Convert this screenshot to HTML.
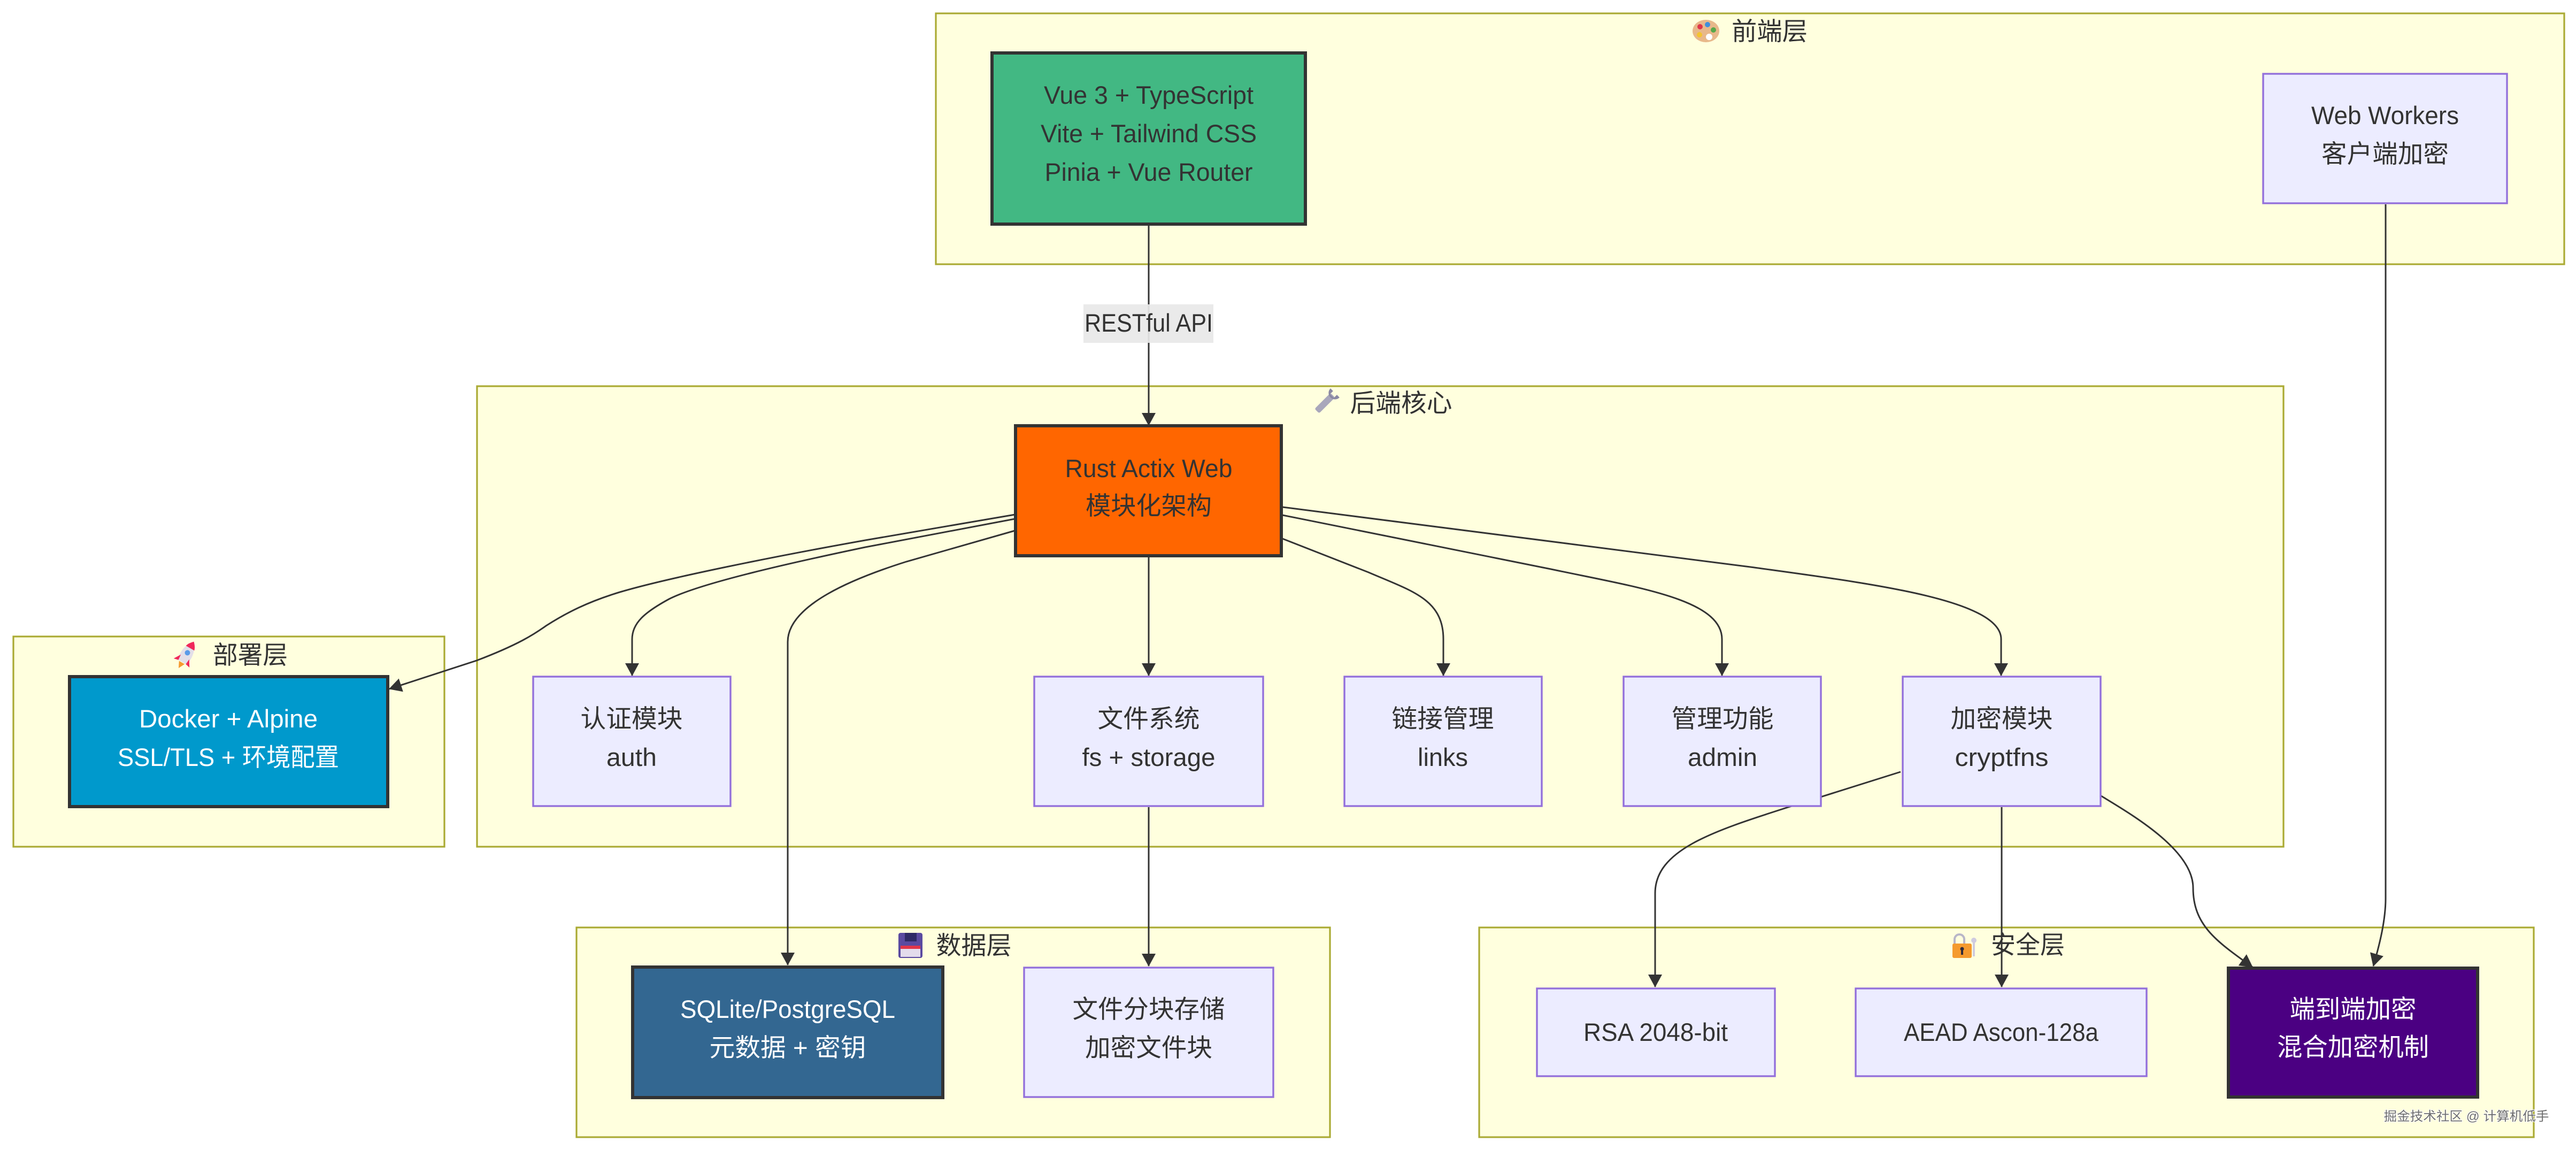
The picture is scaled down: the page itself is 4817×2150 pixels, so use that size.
<!DOCTYPE html>
<html><head><meta charset="utf-8">
<style>
html,body{margin:0;padding:0;background:#fff;width:4817px;height:2150px;overflow:hidden}
svg{display:block}
text{font-family:"Liberation Sans","Noto Sans CJK SC",sans-serif;font-size:47px;fill:#333;text-anchor:middle}
.w{fill:#fff}
.c{fill:#ffffde;stroke:#aaaa33;stroke-width:3.2}
.n{fill:#ececff;stroke:#9370db;stroke-width:3.4}
.t{stroke:#333;stroke-width:6}
.e{fill:none;stroke:#333;stroke-width:3;marker-end:url(#a)}
.wm{font-size:24px;fill:#6e6e6e;paint-order:stroke;stroke:#fff;stroke-width:2px}
</style></head>
<body>
<svg width="4817" height="2150" viewBox="0 0 4817 2150" xmlns="http://www.w3.org/2000/svg">
<defs>
<marker id="a" markerUnits="userSpaceOnUse" markerWidth="24" markerHeight="26" viewBox="0 0 24 26" refX="23" refY="13" orient="auto">
<path d="M0 0L24 13L0 26Z" fill="#333"/>
</marker>
</defs>
<rect width="4817" height="2150" fill="#fff"/>

<!-- clusters -->
<rect class="c" x="1750" y="25" width="3045" height="469"/>
<rect class="c" x="892" y="722" width="3378" height="861"/>
<rect class="c" x="25" y="1190" width="806" height="393"/>
<rect class="c" x="1078" y="1734" width="1409" height="392"/>
<rect class="c" x="2766" y="1734" width="1972" height="392"/>

<!-- cluster titles -->
<g transform="translate(3190,58)">
<ellipse cx="0" cy="0" rx="25" ry="21" fill="#e8b88a"/>
<circle cx="-11" cy="-8" r="5" fill="#e0364a"/><circle cx="3" cy="-12" r="5" fill="#3f8fdc"/>
<circle cx="14" cy="-2" r="5" fill="#58a84a"/><circle cx="-12" cy="7" r="5" fill="#f4c430"/><circle cx="6" cy="11" r="6" fill="#fff"/>
</g>
<text x="3309" y="75" textLength="142" lengthAdjust="spacingAndGlyphs">前端层</text>

<g transform="translate(2478,753) rotate(45)">
<rect x="-6" y="-20" width="12" height="42" rx="3" fill="#a9a7bb"/>
<path d="M-12 -26a12 12 0 0 0 24 0l-7 0v8h-10v-8z" fill="#8b89a3"/>
</g>
<text x="2620" y="770" textLength="191" lengthAdjust="spacingAndGlyphs">后端核心</text>

<g transform="translate(349,1223) rotate(30)">
<path d="M0 -27C13 -13 13 7 9 17H-9C-13 7 -13 -13 0 -27Z" fill="#e3dfe8"/>
<path d="M0 -27C6 -21 8 -17 9 -13H-9C-8 -17 -6 -21 0 -27Z" fill="#f0285a"/>
<circle cx="0" cy="-3" r="5" fill="#5a9be8"/>
<path d="M-9 6L-17 19L-8 17ZM9 6L17 19L8 17Z" fill="#f0285a"/>
<path d="M-6 18H6L0 30Z" fill="#f59a2e"/>
</g>
<text x="468" y="1241" textLength="140" lengthAdjust="spacingAndGlyphs">部署层</text>

<g>
<rect x="1680" y="1744" width="45" height="47" rx="4" fill="#5a4aa0"/>
<rect x="1692" y="1744" width="22" height="16" fill="#2f2a66"/>
<rect x="1684" y="1768" width="37" height="6" fill="#e0364a"/>
<rect x="1684" y="1774" width="37" height="15" fill="#e3dcec"/>
</g>
<text x="1821" y="1784" textLength="141" lengthAdjust="spacingAndGlyphs">数据层</text>

<g>
<path d="M3655 1766v-10a9 9 0 0 1 18 0v10" fill="none" stroke="#b8b6c8" stroke-width="4"/>
<circle cx="3691" cy="1758" r="5" fill="#cfcbe0"/><rect x="3689" y="1760" width="4" height="28" fill="#cfcbe0"/>
<rect x="3651" y="1764" width="36" height="27" rx="3" fill="#f59a2e"/>
<circle cx="3669" cy="1774" r="3.5" fill="#2f2a3a"/><rect x="3667" y="1775" width="4" height="10" fill="#2f2a3a"/>
</g>
<text x="3792" y="1783" textLength="138" lengthAdjust="spacingAndGlyphs">安全层</text>

<!-- edges -->
<path class="e" d="M2148 422V795"/>
<path class="e" d="M2148 1041V1263"/>
<path class="e" d="M2398 948L3273 1060C3490 1090 3742 1120 3742 1195V1263"/>
<path class="e" d="M2398 963L2900 1064C3060 1098 3220 1120 3220 1195V1263"/>
<path class="e" d="M2398 1007L2559 1070C2640 1105 2699 1120 2699 1195V1263"/>
<path class="e" d="M1898 962L1618 1010C1450 1040 1250 1080 1159 1107C1100 1125 1060 1145 1021 1170C1000 1185 970 1205 891 1235L728 1288"/>
<path class="e" d="M1898 970L1618 1023C1480 1052 1310 1090 1251 1120C1205 1145 1182 1165 1182 1195V1263"/>
<path class="e" d="M1898 992L1695 1050C1600 1080 1473 1130 1473 1200V1804"/>
<path class="e" d="M2148 1509V1806"/>
<path class="e" d="M3554 1443L3341 1510C3200 1555 3095 1590 3095 1670V1845"/>
<path class="e" d="M3743 1509V1845"/>
<path class="e" d="M3929 1488C3990 1525 4101 1590 4101 1660C4101 1730 4145 1760 4212 1808"/>
<path class="e" d="M4461 382V1680C4461 1720 4450 1765 4438 1806"/>

<!-- edge label -->
<rect x="2026" y="569" width="243" height="72" fill="#e8e8e8" fill-opacity="0.92"/>
<text x="2148" y="620" textLength="240" lengthAdjust="spacingAndGlyphs">RESTful API</text>

<!-- nodes -->
<rect class="t" x="1855" y="99" width="586" height="320" fill="#42b883"/>
<text x="2148" y="194" textLength="392" lengthAdjust="spacingAndGlyphs">Vue 3 + TypeScript</text>
<text x="2148" y="266" textLength="404" lengthAdjust="spacingAndGlyphs">Vite + Tailwind CSS</text>
<text x="2148" y="338" textLength="389" lengthAdjust="spacingAndGlyphs">Pinia + Vue Router</text>

<rect class="n" x="4232" y="138" width="456" height="242"/>
<text x="4460" y="232" textLength="276" lengthAdjust="spacingAndGlyphs">Web Workers</text>
<text x="4460" y="304" textLength="238" lengthAdjust="spacingAndGlyphs">客户端加密</text>

<rect class="t" x="1899" y="796" width="497" height="243" fill="#ff6600"/>
<text x="2148" y="892" textLength="313" lengthAdjust="spacingAndGlyphs">Rust Actix Web</text>
<text x="2148" y="962" textLength="236" lengthAdjust="spacingAndGlyphs">模块化架构</text>

<rect class="t" x="130" y="1265" width="595" height="243" fill="#0099cc"/>
<text class="w" x="427" y="1360" textLength="334" lengthAdjust="spacingAndGlyphs">Docker + Alpine</text>
<text class="w" x="427" y="1432" textLength="414" lengthAdjust="spacingAndGlyphs">SSL/TLS + 环境配置</text>

<rect class="n" x="997" y="1265" width="369" height="242"/>
<text x="1181" y="1360" textLength="191" lengthAdjust="spacingAndGlyphs">认证模块</text>
<text x="1181" y="1432" textLength="94" lengthAdjust="spacingAndGlyphs">auth</text>

<rect class="n" x="1934" y="1265" width="428" height="242"/>
<text x="2148" y="1360" textLength="191" lengthAdjust="spacingAndGlyphs">文件系统</text>
<text x="2148" y="1432" textLength="249" lengthAdjust="spacingAndGlyphs">fs + storage</text>

<rect class="n" x="2514" y="1265" width="369" height="242"/>
<text x="2698" y="1360" textLength="191" lengthAdjust="spacingAndGlyphs">链接管理</text>
<text x="2698" y="1432" textLength="94" lengthAdjust="spacingAndGlyphs">links</text>

<rect class="n" x="3036" y="1265" width="369" height="242"/>
<text x="3221" y="1360" textLength="191" lengthAdjust="spacingAndGlyphs">管理功能</text>
<text x="3221" y="1432" textLength="130" lengthAdjust="spacingAndGlyphs">admin</text>

<rect class="n" x="3558" y="1265" width="370" height="242"/>
<text x="3743" y="1360" textLength="191" lengthAdjust="spacingAndGlyphs">加密模块</text>
<text x="3743" y="1432" textLength="175" lengthAdjust="spacingAndGlyphs">cryptfns</text>

<rect class="t" x="1183" y="1808" width="580" height="244" fill="#336791"/>
<text class="w" x="1473" y="1903" textLength="402" lengthAdjust="spacingAndGlyphs">SQLite/PostgreSQL</text>
<text class="w" x="1473" y="1975" textLength="293" lengthAdjust="spacingAndGlyphs">元数据 + 密钥</text>

<rect class="n" x="1915" y="1809" width="466" height="242"/>
<text x="2148" y="1903" textLength="285" lengthAdjust="spacingAndGlyphs">文件分块存储</text>
<text x="2148" y="1975" textLength="238" lengthAdjust="spacingAndGlyphs">加密文件块</text>

<rect class="n" x="2874" y="1848" width="445" height="164"/>
<text x="3096" y="1946" textLength="270" lengthAdjust="spacingAndGlyphs">RSA 2048-bit</text>

<rect class="n" x="3470" y="1848" width="544" height="164"/>
<text x="3742" y="1946" textLength="364" lengthAdjust="spacingAndGlyphs">AEAD Ascon-128a</text>

<rect class="t" x="4167" y="1810" width="466" height="241" fill="#4b0082"/>
<text class="w" x="4400" y="1903" textLength="237" lengthAdjust="spacingAndGlyphs">端到端加密</text>
<text class="w" x="4400" y="1974" textLength="284" lengthAdjust="spacingAndGlyphs">混合加密机制</text>

<text class="wm" x="4612" y="2095" textLength="309" lengthAdjust="spacingAndGlyphs">掘金技术社区 @ 计算机低手</text>
</svg>
</body></html>
